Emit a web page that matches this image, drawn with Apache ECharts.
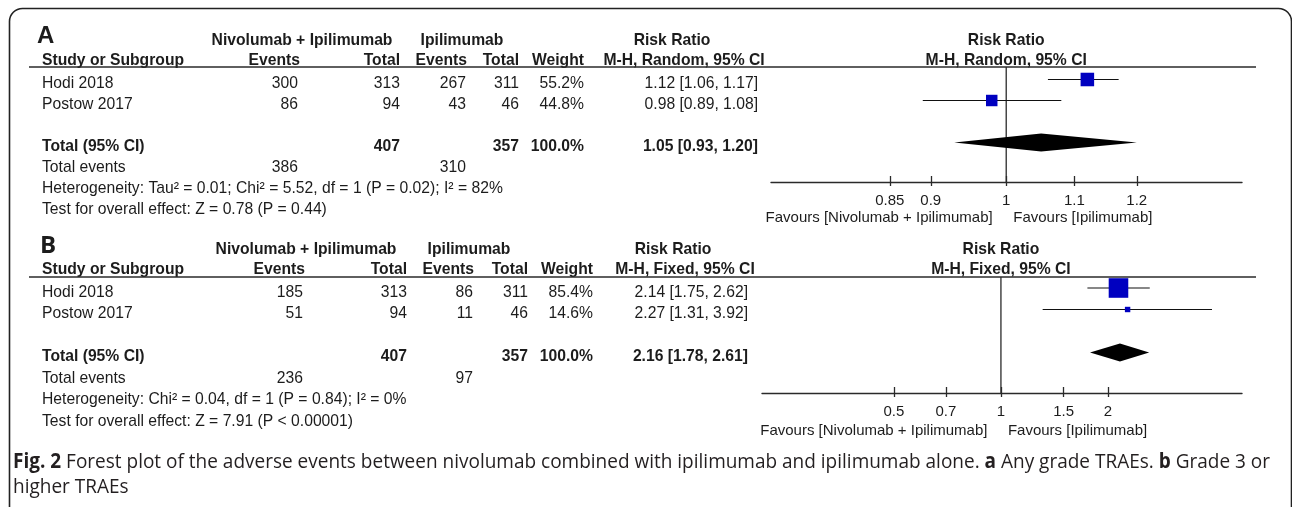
<!DOCTYPE html>
<html>
<head>
<meta charset="utf-8">
<title>Forest plot: adverse events, nivolumab + ipilimumab vs ipilimumab</title>
<script src="https://cdn.jsdelivr.net/npm/echarts@6/dist/echarts.min.js"></script>
<style>
  html, body { margin: 0; padding: 0; background: #ffffff; }
  #chart { width: 1292px; height: 507px; }
</style>
</head>
<body>
<div id="chart"></div>
<script>
// ---------------- data ----------------
const studies = ['Hodi 2018', 'Postow 2017'];

// A: any grade TRAEs (M-H, random effects)
const anyNivEvents = [300, 86];
const anyNivTotal = [313, 94];
const anyIpiEvents = [267, 43];
const anyIpiTotal = [311, 46];
const anyWeight = [55.2, 44.8];
const anyRR = [1.12, 0.98];
const anyLower = [1.06, 0.89];
const anyUpper = [1.17, 1.08];
const anyPooled = [1.05, 0.93, 1.20];      // estimate, lower, upper
const anyTotals = [407, 357];              // participants: Niv + Ipi, Ipi
const anyEventTotals = [386, 310];
const anyHeterogeneity = 'Heterogeneity: Tau² = 0.01; Chi² = 5.52, df = 1 (P = 0.02); I² = 82%';
const anyOverall = 'Test for overall effect: Z = 0.78 (P = 0.44)';
const anyTicks = [0.85, 0.9, 1, 1.1, 1.2];
const anyRange = [0.72, 1.39];

// B: grade 3 or higher TRAEs (M-H, fixed effect)
const severeNivEvents = [185, 51];
const severeNivTotal = [313, 94];
const severeIpiEvents = [86, 11];
const severeIpiTotal = [311, 46];
const severeWeight = [85.4, 14.6];
const severeRR = [2.14, 2.27];
const severeLower = [1.75, 1.31];
const severeUpper = [2.62, 3.92];
const severePooled = [2.16, 1.78, 2.61];
const severeTotals = [407, 357];
const severeEventTotals = [236, 97];
const severeHeterogeneity = 'Heterogeneity: Chi² = 0.04, df = 1 (P = 0.84); I² = 0%';
const severeOverall = 'Test for overall effect: Z = 7.91 (P < 0.00001)';
const severeTicks = [0.5, 0.7, 1, 1.5, 2];
const severeRange = [0.213, 4.76];

const groupLabels = ['Nivolumab + Ipilimumab', 'Ipilimumab'];
const favoursLabels = ['Favours [Nivolumab + Ipilimumab]', 'Favours [Ipilimumab]'];

// ---------------- styling / layout ----------------
const FONT = '"Liberation Sans", Arial, Helvetica, sans-serif';
const CAPTION_FONT = '"Open Sans", "Noto Sans", sans-serif';
const INK = '#1c1c1c';
const BLUE = '#0000c0';
const TABLE_SIZE = 15.7;
const AXIS_SIZE = 15;

const panels = [
  {
    letter: 'A', letterFont: FONT, model: 'M-H, Random, 95% CI',
    nivEvents: anyNivEvents, nivTotal: anyNivTotal, ipiEvents: anyIpiEvents, ipiTotal: anyIpiTotal,
    weight: anyWeight, rr: anyRR, lower: anyLower, upper: anyUpper, pooled: anyPooled,
    totals: anyTotals, eventTotals: anyEventTotals, heterogeneity: anyHeterogeneity, overall: anyOverall,
    ticks: anyTicks, range: anyRange,
    lay: {
      letterX: 37, letterY: 36.5, groupY: 41, headY: 60.5, ruleY: 67,
      rowY0: 79.5, rowH: 21, textDy: 4.5,
      plotLeft: 771, plotRight: 1242, axisY: 182, favoursY: 217.5,
      cols: { study: 42, nivEv: 298, nivTot: 400, ipiEv: 466, ipiTot: 519, weight: 584, ci: 758 },
      heads: { niv: 302, ipi: 462, rr: 672, model: 684 }
    }
  },
  {
    letter: 'B', letterFont: CAPTION_FONT, model: 'M-H, Fixed, 95% CI',
    nivEvents: severeNivEvents, nivTotal: severeNivTotal, ipiEvents: severeIpiEvents, ipiTotal: severeIpiTotal,
    weight: severeWeight, rr: severeRR, lower: severeLower, upper: severeUpper, pooled: severePooled,
    totals: severeTotals, eventTotals: severeEventTotals, heterogeneity: severeHeterogeneity, overall: severeOverall,
    ticks: severeTicks, range: severeRange,
    lay: {
      letterX: 40, letterY: 246.5, groupY: 250, headY: 270, ruleY: 277,
      rowY0: 288, rowH: 21.5, textDy: 4.5,
      plotLeft: 762, plotRight: 1242, axisY: 393, favoursY: 431,
      cols: { study: 42, nivEv: 303, nivTot: 407, ipiEv: 473, ipiTot: 528, weight: 593, ci: 748 },
      heads: { niv: 306, ipi: 469, rr: 673, model: 685 }
    }
  }
];

// row slots in each panel (structure of the table)
const ROW_TOTAL = 3, ROW_EVENTS = 4, ROW_HET = 5, ROW_TEST = 6;

function ciText(v, lo, hi) {
  return v.toFixed(2) + ' [' + lo.toFixed(2) + ', ' + hi.toFixed(2) + ']';
}
function tickLabel(ticks, v) {
  let best = ticks[0];
  ticks.forEach(t => { if (Math.abs(Math.log(t) - v) < Math.abs(Math.log(best) - v)) best = t; });
  return String(best);
}

const chart = echarts.init(document.getElementById('chart'), null, { renderer: 'canvas', width: 1292, height: 507 });

// ---------------- coordinate systems & marks ----------------
const grids = [], xAxes = [], yAxes = [], series = [];
panels.forEach((p, i) => {
  const L = p.lay;
  const h = L.axisY - L.ruleY;
  const yMin = -(L.rowY0 - L.ruleY) / L.rowH;
  grids.push({ left: L.plotLeft, top: L.ruleY, width: L.plotRight - L.plotLeft, height: h,
               containLabel: false, outerBoundsMode: 'none' });
  const lnTicks = p.ticks.map(Math.log);
  const xmin = Math.log(p.range[0]), xmax = Math.log(p.range[1]);
  xAxes.push({
    type: 'value', gridIndex: i, min: xmin, max: xmax, position: 'bottom',
    axisLine: { show: true, onZero: false, lineStyle: { color: '#2a2a2a', width: 1.4 } },
    axisTick: { show: true, inside: true, length: 6, customValues: lnTicks, lineStyle: { color: '#2a2a2a', width: 1.3 } },
    axisLabel: { show: true, customValues: lnTicks, margin: 11, fontFamily: FONT, fontSize: AXIS_SIZE, color: INK,
                 formatter: v => tickLabel(p.ticks, v) },
    splitLine: { show: false }
  });
  xAxes.push({
    type: 'value', gridIndex: i, min: xmin, max: xmax, position: 'bottom',
    axisLine: { show: false, onZero: false },
    axisTick: { show: true, inside: false, length: 4, customValues: lnTicks, lineStyle: { color: '#2a2a2a', width: 1.3 } },
    axisLabel: { show: false },
    splitLine: { show: false }
  });
  yAxes.push({ type: 'value', gridIndex: i, inverse: true, min: yMin, max: yMin + h / L.rowH, show: false });

  // line of no effect (RR = 1)
  series.push({
    type: 'custom', xAxisIndex: 2 * i, yAxisIndex: i, silent: true, z: 1,
    data: [[1, 0]],
    renderItem: (params, api) => {
      const x = api.coord([Math.log(api.value(0)), 0])[0];
      const cs = params.coordSys;
      return { type: 'line', shape: { x1: x, y1: cs.y, x2: x, y2: cs.y + cs.height },
               style: { stroke: '#2a2a2a', lineWidth: 1.3 } };
    }
  });
  // study estimates: CI whisker + weighted square
  series.push({
    type: 'custom', xAxisIndex: 2 * i, yAxisIndex: i, silent: true, z: 3,
    data: studies.map((s, k) => [p.rr[k], p.lower[k], p.upper[k], p.weight[k], k]),
    renderItem: (params, api) => {
      const row = api.value(4);
      const c = api.coord([Math.log(api.value(0)), row]);
      const a = api.coord([Math.log(api.value(1)), row]);
      const b = api.coord([Math.log(api.value(2)), row]);
      const s = 2.5 + 0.2 * api.value(3);
      return { type: 'group', children: [
        { type: 'line', shape: { x1: a[0], y1: a[1], x2: b[0], y2: b[1] }, style: { stroke: '#111', lineWidth: 1.1 } },
        { type: 'rect', shape: { x: c[0] - s / 2, y: c[1] - s / 2, width: s, height: s }, style: { fill: BLUE } }
      ] };
    }
  });
  // pooled estimate diamond
  series.push({
    type: 'custom', xAxisIndex: 2 * i, yAxisIndex: i, silent: true, z: 3,
    data: [[p.pooled[0], p.pooled[1], p.pooled[2], ROW_TOTAL]],
    renderItem: (params, api) => {
      const row = api.value(3);
      const c = api.coord([Math.log(api.value(0)), row]);
      const a = api.coord([Math.log(api.value(1)), row]);
      const b = api.coord([Math.log(api.value(2)), row]);
      const hh = 9;
      return { type: 'polygon', shape: { points: [[a[0], c[1]], [c[0], c[1] - hh], [b[0], c[1]], [c[0], c[1] + hh]] },
               style: { fill: '#000' } };
    }
  });
});

chart.setOption({
  backgroundColor: '#ffffff',
  animation: false,
  grid: grids, xAxis: xAxes, yAxis: yAxes, series: series
});

// ---------------- table text, headers, caption ----------------
function txt(x, y, s, align, bold, size, family) {
  return {
    type: 'text', x: x, y: y, silent: true,
    style: {
      text: s, x: 0, y: 0, align: align, textAlign: align, verticalAlign: 'middle', textVerticalAlign: 'middle',
      fill: INK, fontFamily: family || FONT, fontSize: size || TABLE_SIZE, fontWeight: bold ? 'bold' : 'normal'
    }
  };
}

const elements = [];
// outer frame
elements.push({ type: 'rect', silent: true, shape: { x: 9.5, y: 8.5, width: 1282, height: 560, r: 13 },
                style: { fill: 'none', stroke: '#222', lineWidth: 1.6 } });

panels.forEach((p, i) => {
  const L = p.lay, C = L.cols, H = L.heads;
  const rowY = r => chart.convertToPixel({ yAxisIndex: i }, r) + L.textDy;
  const nullX = chart.convertToPixel({ xAxisIndex: 2 * i }, Math.log(1));

  elements.push(txt(L.letterX, L.letterY, p.letter, 'left', true, 24, p.letterFont));
  elements.push(txt(H.niv, L.groupY, groupLabels[0], 'center', true));
  elements.push(txt(H.ipi, L.groupY, groupLabels[1], 'center', true));
  elements.push(txt(H.rr, L.groupY, 'Risk Ratio', 'center', true));
  elements.push(txt(nullX, L.groupY, 'Risk Ratio', 'center', true));

  elements.push(txt(C.study, L.headY, 'Study or Subgroup', 'left', true));
  elements.push(txt(C.nivEv + 2, L.headY, 'Events', 'right', true));
  elements.push(txt(C.nivTot, L.headY, 'Total', 'right', true));
  elements.push(txt(C.ipiEv + 1, L.headY, 'Events', 'right', true));
  elements.push(txt(C.ipiTot, L.headY, 'Total', 'right', true));
  elements.push(txt(C.weight, L.headY, 'Weight', 'right', true));
  elements.push(txt(H.model, L.headY, p.model, 'center', true));
  elements.push(txt(nullX, L.headY, p.model, 'center', true));

  elements.push({ type: 'line', silent: true, shape: { x1: 29, y1: L.ruleY, x2: 1256, y2: L.ruleY },
                  style: { stroke: '#2a2a2a', lineWidth: 1.5 } });

  studies.forEach((s, k) => {
    const y = rowY(k);
    elements.push(txt(C.study, y, s, 'left'));
    elements.push(txt(C.nivEv, y, String(p.nivEvents[k]), 'right'));
    elements.push(txt(C.nivTot, y, String(p.nivTotal[k]), 'right'));
    elements.push(txt(C.ipiEv, y, String(p.ipiEvents[k]), 'right'));
    elements.push(txt(C.ipiTot, y, String(p.ipiTotal[k]), 'right'));
    elements.push(txt(C.weight, y, p.weight[k].toFixed(1) + '%', 'right'));
    elements.push(txt(C.ci, y, ciText(p.rr[k], p.lower[k], p.upper[k]), 'right'));
  });

  const yT = rowY(ROW_TOTAL);
  const wSum = p.weight.reduce((a, b) => a + b, 0);
  elements.push(txt(C.study, yT, 'Total (95% CI)', 'left', true));
  elements.push(txt(C.nivTot, yT, String(p.totals[0]), 'right', true));
  elements.push(txt(C.ipiTot, yT, String(p.totals[1]), 'right', true));
  elements.push(txt(C.weight, yT, wSum.toFixed(1) + '%', 'right', true));
  elements.push(txt(C.ci, yT, ciText(p.pooled[0], p.pooled[1], p.pooled[2]), 'right', true));

  const yE = rowY(ROW_EVENTS);
  elements.push(txt(C.study, yE, 'Total events', 'left'));
  elements.push(txt(C.nivEv, yE, String(p.eventTotals[0]), 'right'));
  elements.push(txt(C.ipiEv, yE, String(p.eventTotals[1]), 'right'));

  elements.push(txt(C.study, rowY(ROW_HET), p.heterogeneity, 'left'));
  elements.push(txt(C.study, rowY(ROW_TEST), p.overall, 'left'));

  elements.push(txt(nullX - 13.5, L.favoursY, favoursLabels[0], 'right', false, AXIS_SIZE));
  elements.push(txt(nullX + 7, L.favoursY, favoursLabels[1], 'left', false, AXIS_SIZE));
});

// caption: condensed to the frame width
const CAP_SIZE = 20.5;
const capLine1 = [
  ['Fig. 2', true],
  [' Forest plot of the adverse events between nivolumab combined with ipilimumab and ipilimumab alone. ', false],
  ['a', true], [' Any grade TRAEs. ', false], ['b', true], [' Grade 3 or', false]
];
const capLine2 = 'higher TRAEs';
const mctx = document.createElement('canvas').getContext('2d');
let capWidth = 0;
capLine1.forEach(([s, b]) => {
  mctx.font = (b ? '700 ' : '400 ') + CAP_SIZE + 'px ' + CAPTION_FONT;
  capWidth += mctx.measureText(s).width;
});
const capScale = Math.min(1, 1257 / capWidth);
const capRich = capLine1.map(([s, b]) => b ? '{b|' + s + '}' : s).join('');
const capStyle = { fill: '#231f20', fontFamily: CAPTION_FONT, fontSize: CAP_SIZE, fontWeight: 'normal',
                   align: 'left', verticalAlign: 'middle', textAlign: 'left', textVerticalAlign: 'middle',
                   rich: { b: { fontFamily: CAPTION_FONT, fontSize: CAP_SIZE, fontWeight: 'bold', fill: '#231f20' } } };
elements.push({ type: 'text', x: 13, y: 462, scaleX: capScale, silent: true,
                style: Object.assign({ text: capRich, x: 0, y: 0 }, capStyle) });
elements.push({ type: 'text', x: 13, y: 487, scaleX: capScale, silent: true,
                style: Object.assign({ text: capLine2, x: 0, y: 0 }, capStyle) });

chart.setOption({ graphic: { elements: elements } });
</script>
</body>
</html>
